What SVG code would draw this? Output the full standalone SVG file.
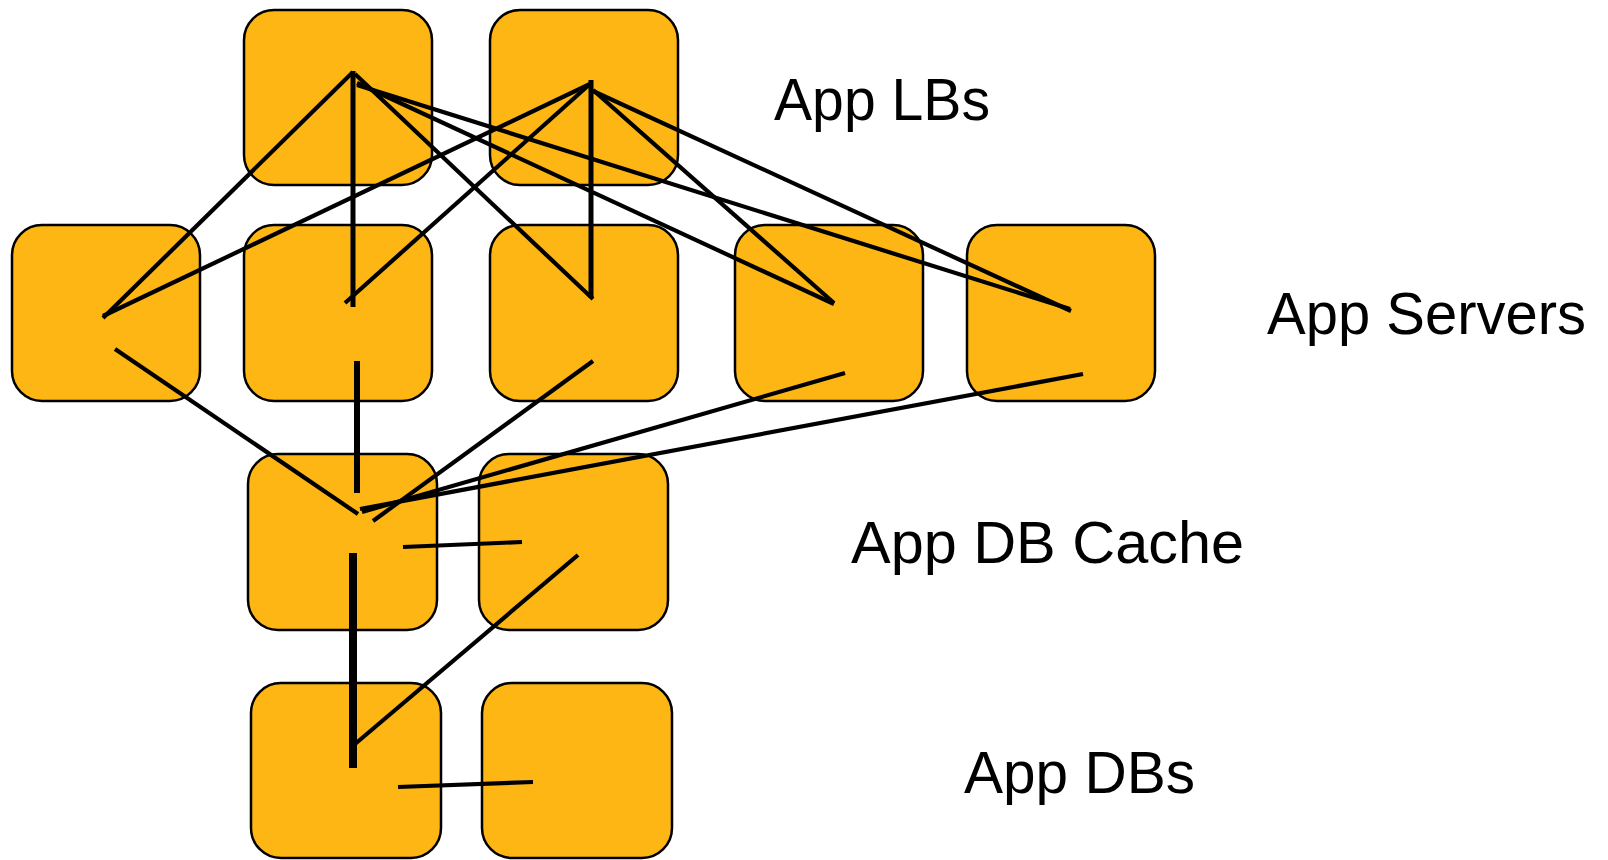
<svg xmlns="http://www.w3.org/2000/svg" width="1608" height="860" viewBox="0 0 1608 860">
<style>
.box{fill:#FDB614;stroke:#000;stroke-width:2.5}
.ln{stroke:#000;stroke-width:4.2;fill:none;stroke-linecap:butt}
.lbl{font-family:"Liberation Sans",Arial,sans-serif;font-size:60px;fill:#000}
</style>
<rect width="1608" height="860" fill="#fff"/>
<g id="nodes">
<g id="lb1"><rect class="box" x="244" y="10" width="188" height="175" rx="30"/></g>
<g id="lb2"><rect class="box" x="490" y="10" width="188" height="175" rx="30"/></g>
<g id="s1"><rect class="box" x="12" y="225" width="188" height="176" rx="30"/></g>
<g id="s2"><rect class="box" x="244" y="225" width="188" height="176" rx="30"/></g>
<g id="s3"><rect class="box" x="490" y="225" width="188" height="176" rx="30"/></g>
<g id="s4"><rect class="box" x="735" y="225" width="188" height="176" rx="30"/></g>
<g id="s5"><rect class="box" x="967" y="225" width="188" height="176" rx="30"/></g>
<g id="c1"><rect class="box" x="248" y="454" width="189" height="176" rx="30"/></g>
<g id="c2"><rect class="box" x="479" y="454" width="189" height="176" rx="30"/></g>
<g id="db1"><rect class="box" x="251" y="683" width="190" height="175" rx="30"/></g>
<g id="db2"><rect class="box" x="482" y="683" width="190" height="175" rx="30"/></g>
</g>
<g id="connectors">
<line class="ln" x1="353" y1="72" x2="103" y2="318"/>
<line class="ln" x1="353" y1="71" x2="353" y2="307" style="stroke-width:5"/>
<line class="ln" x1="355" y1="74" x2="593" y2="299"/>
<line class="ln" x1="357" y1="83" x2="834" y2="304"/>
<line class="ln" x1="357" y1="85" x2="1070" y2="309"/>
<line class="ln" x1="590" y1="84" x2="103" y2="316"/>
<line class="ln" x1="590" y1="84" x2="345" y2="303"/>
<line class="ln" x1="591" y1="80" x2="591" y2="298" style="stroke-width:5"/>
<line class="ln" x1="593" y1="90" x2="834" y2="303"/>
<line class="ln" x1="593" y1="91" x2="1071" y2="311"/>
<line class="ln" x1="115" y1="349" x2="358" y2="514"/>
<line class="ln" x1="357" y1="361" x2="357" y2="493" style="stroke-width:6"/>
<line class="ln" x1="593" y1="361" x2="373" y2="521"/>
<line class="ln" x1="845" y1="373" x2="362" y2="512"/>
<line class="ln" x1="1083" y1="374" x2="360" y2="509"/>
<line class="ln" x1="403" y1="547" x2="522" y2="542"/>
<line class="ln" x1="353" y1="553" x2="353" y2="768" style="stroke-width:8"/>
<line class="ln" x1="578" y1="555" x2="355" y2="744"/>
<line class="ln" x1="398" y1="787" x2="533" y2="782"/>
</g>
<g id="labels">
<text class="lbl" x="774" y="120" textLength="216" lengthAdjust="spacingAndGlyphs">App LBs</text>
<text class="lbl" x="1267" y="334" textLength="319" lengthAdjust="spacingAndGlyphs">App Servers</text>
<text class="lbl" x="851" y="563" textLength="393" lengthAdjust="spacingAndGlyphs">App DB Cache</text>
<text class="lbl" x="964" y="793" textLength="231" lengthAdjust="spacingAndGlyphs">App DBs</text>
</g>
</svg>
